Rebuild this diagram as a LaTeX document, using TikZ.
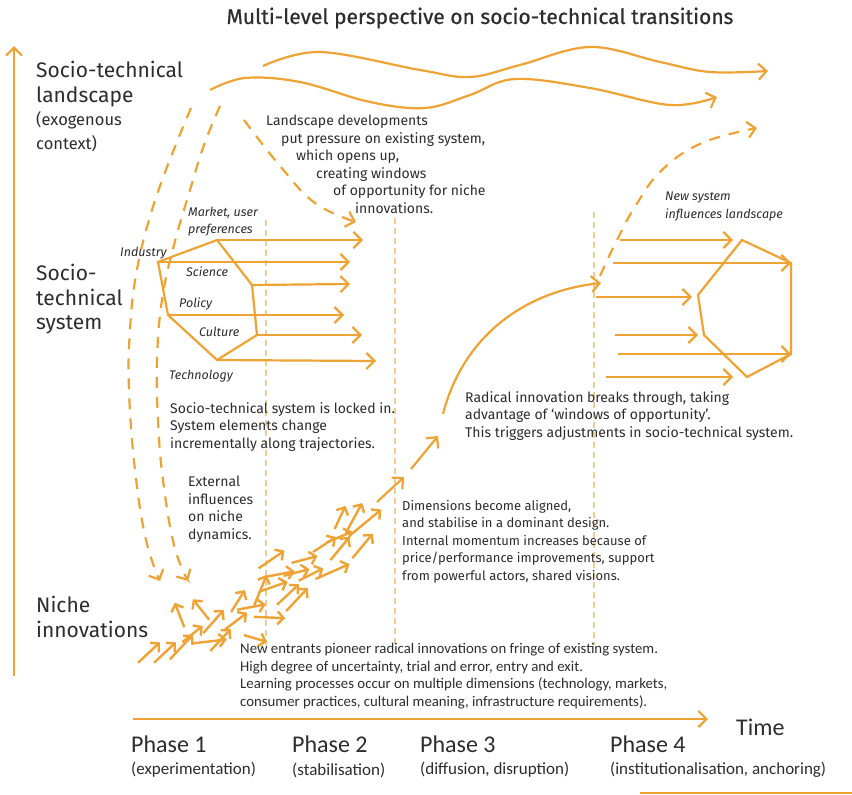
\documentclass[tikz,border=0pt]{standalone}
\usepackage{fontspec}
\setmainfont{Fira Sans}
\newfontfamily\condfont{Carlito}
\usetikzlibrary{arrows.meta,calc}
\definecolor{ink}{RGB}{45,45,45}
\definecolor{amber}{RGB}{238,163,52}
\definecolor{paleamber}{RGB}{242,204,150}
\tikzset{
  flow/.style={draw=amber, line width=2.2pt, -{Straight Barb[length=8pt,width=16pt]}},
  plain/.style={draw=amber, line width=2.2pt},
  dashflow/.style={flow, dash pattern=on 11pt off 9pt},
  sprout/.style={draw=amber, line width=2.4pt, -{Straight Barb[length=6pt,width=13pt]}},
  phaseline/.style={draw=paleamber, line width=1.3pt, dash pattern=on 6pt off 4pt},
  txt/.style={text=ink, inner sep=0pt, anchor=north west, align=left,
    font=\fontsize{14}{17.5}\selectfont},
  heading/.style={text=ink, inner sep=0pt, anchor=north west, align=left,
    font=\fontsize{21}{24.5}\selectfont},
  subhead/.style={text=ink, inner sep=0pt, anchor=north west, align=left,
    font=\fontsize{16.5}{24}\selectfont},
  element/.style={text=ink, inner sep=0pt, anchor=west,
    font=\fontsize{12.5}{16}\selectfont\itshape},
  phase/.style={text=ink, inner sep=0pt, anchor=west, font=\condfont\fontsize{24}{26}\selectfont},
  phasesub/.style={text=ink, inner sep=0pt, anchor=west, font=\condfont\fontsize{17}{18}\selectfont},
}
\begin{document}
\begin{tikzpicture}[x=1pt, y=-1pt]
\fill[white] (0,0) rectangle (852,795);
\useasboundingbox (0,0) rectangle (852,795);

% title
\node[text=ink, inner sep=0pt, font=\fontsize{21}{24}\selectfont\addfontfeatures{FakeBold=0.6}] (title) at (480,18)
  {Multi-level perspective on socio-technical transitions};

% axes
\coordinate (yaxis0) at (14,676);
\coordinate (yaxis1) at (14,46);
\draw[flow] (yaxis0) -- (yaxis1);
\coordinate (taxis0) at (133,719);
\coordinate (taxis1) at (708,719);
\draw[flow] (taxis0) -- (taxis1);
\coordinate (rule0) at (640,793);
\coordinate (rule1) at (852,793);
\draw[plain, line width=2pt] (rule0) -- (rule1);

% level labels
\node[heading] (landscape) at (36,61) {Socio-technical\\landscape};
\node[subhead] (exo) at (36,111) {(exogenous\\context)};
\node[heading] (regime) at (36,264) {Socio-\\technical\\system};
\node[heading] (niche) at (36,596) {Niche\\innovations};

% phase boundaries
\foreach \x/\t/\b in {266/220/645, 395/218/645, 594/212/645}
  \draw[phaseline] (\x,\t) -- (\x,\b);

% landscape developments
\draw[flow] plot[smooth, tension=0.6] coordinates {(263,66) (320,52) (420,70) (470,77) (520,65) (590,47) (660,62) (710,72) (768,71)};
\draw[flow] plot[smooth, tension=0.6] coordinates {(210,90) (245,78) (300,82) (370,102) (425,108) (470,95) (515,79) (590,88) (670,105) (717,97)};

% landscape pressure on niches and regime
\draw[dashflow] plot[smooth, tension=0.7] coordinates {(191,108) (167,167) (149,220) (136,275) (130,330) (129,390) (135,470) (146,540) (160,581)};
\draw[dashflow] plot[smooth, tension=0.7] coordinates {(220,106) (204,145) (190,190) (174,245) (162,300) (157,360) (158,420) (163,480) (174,545) (188,581)};
\draw[dashflow] plot[smooth, tension=0.7] coordinates {(244,120) (280,166) (315,203) (356,222)};
% new system feeds back
\draw[dashflow] plot[smooth, tension=0.7] coordinates {(600,276) (617,240) (636,205) (662,170) (702,143) (757,128)};

% existing socio-technical system
\coordinate (p1) at (158,262);
\coordinate (p2) at (217,240);
\coordinate (p3) at (252,285);
\coordinate (p4) at (257,335);
\coordinate (p5) at (217,360);
\coordinate (p6) at (168,315);
\draw[plain, line join=miter] (p1) -- (p2) -- (p3) -- (p4) -- (p5) -- (p6) -- cycle;
\coordinate (q2) at (363,240);
\coordinate (q1) at (350,262);
\coordinate (q3) at (350,284);
\coordinate (q6) at (344,315);
\coordinate (q4) at (362,335);
\coordinate (q5) at (376,361);
\draw[flow] (p2) -- (q2);
\draw[flow] (p1) -- (q1);
\draw[flow] (p3) -- (q3);
\draw[flow] (p6) -- (q6);
\draw[flow] (p4) -- (q4);
\draw[flow] (p5) -- (q5);

\node[element] (market) at (188,213) {Market, user};
\node[element] (pref) at (188,230) {preferences};
\node[element] (industry) at (120,253) {Industry};
\node[element] (science) at (186,272) {Science};
\node[element] (policy) at (179,304) {Policy};
\node[element] (culture) at (199,332) {Culture};
\node[element] (technology) at (169,376) {Technology};

% new socio-technical system
\coordinate (r1) at (742,240);
\coordinate (r2) at (791,263);
\coordinate (r3) at (791,354);
\coordinate (r4) at (747,377);
\coordinate (r5) at (704,335);
\coordinate (r6) at (698,295);
\draw[plain] (r1) -- (r2) -- (r3) -- (r4) -- (r5) -- (r6) -- cycle;
\coordinate (s1) at (620,240);
\coordinate (s2) at (613,263);
\coordinate (s3) at (596,297);
\coordinate (s4) at (615,335);
\coordinate (s5) at (618,354);
\coordinate (s6) at (606,377);
\coordinate (t1) at (733,240);
\coordinate (t3) at (692,297);
\coordinate (t4) at (698,335);
\coordinate (t6) at (733,377);
\draw[flow] (s1) -- (t1);
\draw[flow] (s2) -- (r2);
\draw[flow] (s3) -- (t3);
\draw[flow] (s4) -- (t4);
\draw[flow] (s5) -- (r3);
\draw[flow] (s6) -- (t6);

\node[element] (newsys) at (665,198) {New system};
\node[element] (influ) at (665,215) {influences landscape};

% niche experiments gathering momentum (each stretched about its midpoint)
\foreach \a/\b/\c/\d in {
  141/660/157/645, 157/660/173/645, 173/656/190/638, 196/643/222/640,
  183/624/176/606, 207/617/195/602, 206/630/221/613, 227/628/244/615,
  233/609/243/593, 241/609/262/605, 247/636/264/641, 256/601/265/579,
  258/617/281/618, 264/590/284/583, 262/566/281/553, 280/602/296/587,
  289/608/305/591, 270/576/291/572, 287/575/306/570, 295/562/314/557,
  302/579/320/570, 316/550/333/539, 320/577/345/566, 333/557/347/540,
  336/526/344/509, 348/529/360/507, 354/532/377/513, 355/555/370/537,
  330/541/349/533, 213/648/228/632, 185/640/200/628}
  \draw[sprout] ($(\a,\b)!-0.18!(\c,\d)$) -- ($(\a,\b)!1.18!(\c,\d)$);
\coordinate (k0) at (377,502);
\coordinate (k1) at (404,477);
\coordinate (k2) at (411,469);
\coordinate (k3) at (438,436);
\coordinate (k4) at (443,414);
\coordinate (k5) at (601,283);
\draw[flow] (k0) -- (k1);
\draw[flow] (k2) -- (k3);
\draw[flow] (k4) .. controls (462,340) and (520,292) .. (k5);

% annotations
\node[txt] (pressure) at (266,115) {Landscape developments\\
  \hspace*{15pt}put pressure on existing system,\\
  \hspace*{30pt}which opens up,\\
  \hspace*{50pt}creating windows\\
  \hspace*{67pt}of opportunity for niche\\
  \hspace*{89pt}innovations.};
\node[txt] (lockin) at (170,402) {Socio-technical system is locked in.\\
  System elements change\\incrementally along trajectories.};
\node[txt] (external) at (188,476) {External\\influences\\on niche\\dynamics.};
\node[txt] (breakthrough) at (465,391) {Radical innovation breaks through, taking\\
  advantage of `windows of opportunity'.\\This triggers adjustments in socio-technical system.};
\node[txt, font=\fontsize{13}{17.5}\selectfont] (aligned) at (402,500) {Dimensions become aligned,\\
  and stabilise in a dominant design.\\Internal momentum increases because of\\
  price/performance improvements, support\\from powerful actors, shared visions.};
\node[txt, font=\condfont\fontsize{14.8}{17.7}\selectfont] (entrants) at (240,643)
  {New entrants pioneer radical innovations on fringe of existing system.\\
  High degree of uncertainty, trial and error, entry and exit.\\
  Learning processes occur on multiple dimensions (technology, markets,\\
  consumer practices, cultural meaning, infrastructure requirements).};

% time axis labels
\node[phase] (time) at (736,727) {Time};
\node[phase] (ph1) at (131,744) {Phase 1};
\node[phase] (ph2) at (292,744) {Phase 2};
\node[phase] (ph3) at (420,744) {Phase 3};
\node[phase] (ph4) at (610,744) {Phase 4};
\node[phasesub] (ph1s) at (131,770) {(experimentation)};
\node[phasesub] (ph2s) at (292,770) {(stabilisation)};
\node[phasesub] (ph3s) at (420,770) {(diffusion, disruption)};
\node[phasesub] (ph4s) at (610,770) {(institutionalisation, anchoring)};
\end{tikzpicture}
\end{document}
